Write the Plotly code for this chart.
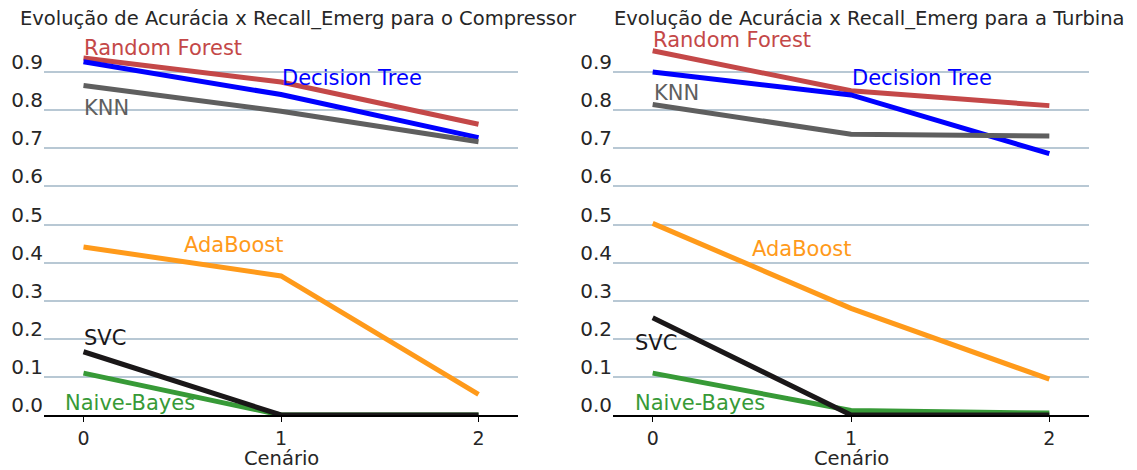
import plotly.graph_objects as go

cenarios = [0, 1, 2]
modelos = ["Random Forest", "Decision Tree", "KNN", "AdaBoost", "Naive-Bayes", "SVC"]
cores = ["#c44848", "#0000ff", "#5f5f5f", "#ff9a1a", "#379a37", "#1a1718"]

# Compressor
rf_c = [0.937, 0.874, 0.763]
dt_c = [0.927, 0.841, 0.728]
knn_c = [0.865, 0.797, 0.717]
ada_c = [0.441, 0.365, 0.054]
nb_c = [0.110, 0.0, 0.0]
svc_c = [0.166, 0.0, 0.0]

# Turbina
rf_t = [0.956, 0.851, 0.812]
dt_t = [0.900, 0.840, 0.686]
knn_t = [0.815, 0.737, 0.732]
ada_t = [0.503, 0.280, 0.094]
nb_t = [0.110, 0.012, 0.005]
svc_t = [0.255, 0.0, 0.0]

# label anchor positions (x, y) in data units
lab_c = [(-0.01, 0.963), (0.995, 0.885), (-0.01, 0.806), (0.50, 0.446), (-0.105, 0.031), (-0.01, 0.202)]
lab_t = [(-0.01, 0.984), (0.995, 0.885), (-0.005, 0.845), (0.49, 0.436), (-0.10, 0.031), (-0.10, 0.19)]

titulos = ["Evolução de Acurácia x Recall_Emerg para o Compressor",
           "Evolução de Acurácia x Recall_Emerg para a Turbina"]
yticks = [0.0, 0.1, 0.2, 0.3, 0.4, 0.5, 0.6, 0.7, 0.8, 0.9]

FONT = "DejaVu Sans"
fig = go.Figure()

series = [
    ("x", "y", [rf_c, dt_c, knn_c, ada_c, nb_c, svc_c], lab_c),
    ("x2", "y2", [rf_t, dt_t, knn_t, ada_t, nb_t, svc_t], lab_t),
]
annotations = []
for xa, ya, vals, labs in series:
    for nome, cor, v, (lx, ly) in zip(modelos, cores, vals, labs):
        fig.add_trace(go.Scatter(x=cenarios, y=v, mode="lines", name=nome,
                                 line=dict(color=cor, width=5),
                                 xaxis=xa, yaxis=ya, showlegend=False))
        annotations.append(dict(x=lx, y=ly, xref=xa, yref=ya, text=nome,
                                showarrow=False, xanchor="left", yanchor="middle",
                                font=dict(family=FONT, size=21, color=cor)))

# titles and x labels
for cx, t in zip([0.2435, 0.790], titulos):
    annotations.append(dict(x=cx, y=1.04, xref="paper", yref="paper", text=t,
                            showarrow=False, xanchor="center", yanchor="middle",
                            font=dict(family=FONT, size=19.5, color="#262626")))
for cx in [0.2268, 0.7732]:
    annotations.append(dict(x=cx, y=-0.113, xref="paper", yref="paper", text="Cenário",
                            showarrow=False, xanchor="center", yanchor="middle",
                            font=dict(family=FONT, size=19.5, color="#262626")))

xcommon = dict(range=[-0.2, 2.2], tickvals=cenarios, ticktext=[str(c) for c in cenarios],
               showgrid=False, zeroline=False, showline=True, linecolor="#000000",
               linewidth=1.5, ticks="outside", ticklen=5, tickcolor="#000000",
               tickwidth=1, automargin=False,
               tickfont=dict(family=FONT, size=19, color="#262626"))
ycommon = dict(range=[0, 1.0], tickvals=yticks, ticktext=[f"{v:.1f}" for v in yticks],
               showgrid=True, gridcolor="#b8c8d4", gridwidth=1.5, zeroline=False,
               showline=False, ticks="", ticklabelshift=-10, automargin=False,
               tickfont=dict(family=FONT, size=20, color="#262626"))

# page body has an 8px margin, so the figure is 8px smaller and margins shifted
fig.update_layout(
    width=1129, height=462,
    margin=dict(l=36, r=48, t=26, b=55),
    paper_bgcolor="white", plot_bgcolor="white",
    xaxis=dict(domain=[0, 0.4536], anchor="y", **xcommon),
    yaxis=dict(domain=[0, 1], anchor="x", **ycommon),
    xaxis2=dict(domain=[0.5445, 1.0], anchor="y2", **xcommon),
    yaxis2=dict(domain=[0, 1], anchor="x2", **ycommon),
    annotations=annotations,
)

fig.write_html("out.html")
